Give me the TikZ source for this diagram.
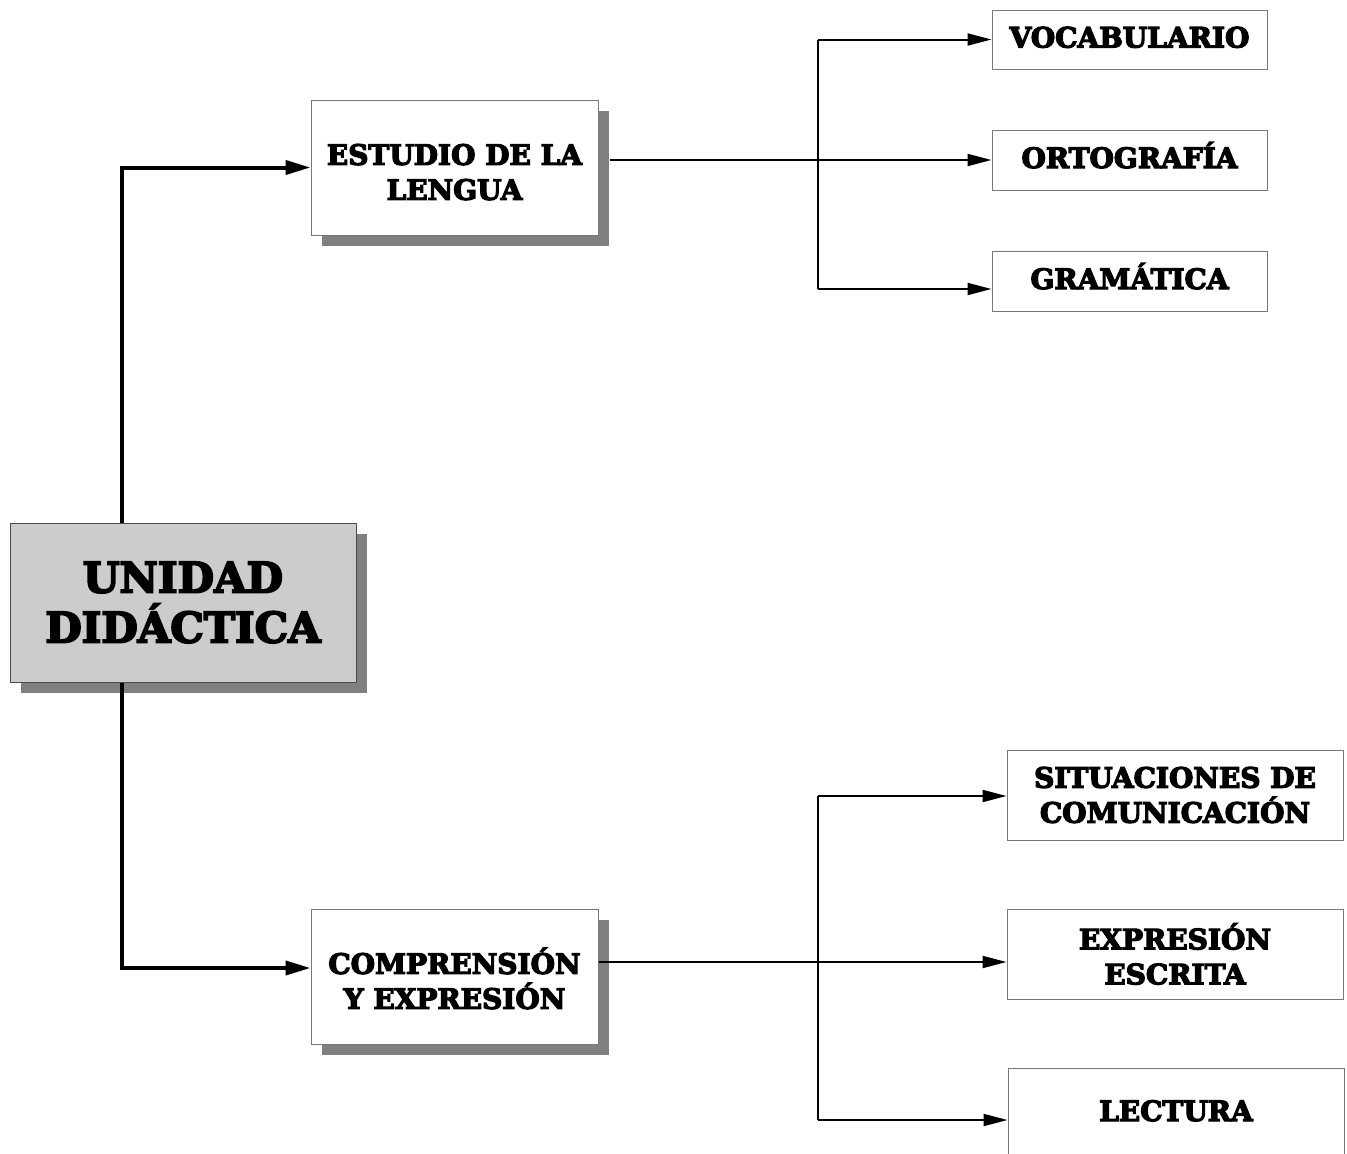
\documentclass[tikz,border=0pt]{standalone}
\usepackage{fontspec}
\newfontfamily\boxfont{DejaVu Serif Bold}[FakeBold=4.5]
\usetikzlibrary{arrows.meta,shadows,positioning}
\definecolor{shadowgray}{RGB}{128,128,128}
\definecolor{maingray}{RGB}{204,204,204}
\definecolor{edgegray}{RGB}{120,120,120}
\begin{document}
\begin{tikzpicture}[x=1pt,y=-1pt,
  base/.style={draw=edgegray, line width=1pt, align=center, inner sep=0pt, font=\boxfont\fontsize{28}{35}\selectfont},
  leaf/.style={base, fill=white},
  oneline/.style={text height=20pt, text depth=4pt},
  mid/.style={base, fill=white, minimum width=287pt, minimum height=135pt,
    drop shadow={shadow xshift=11pt, shadow yshift=-11pt, fill=shadowgray, opacity=1}},
  root/.style={base, draw=black!70, fill=maingray, minimum width=346pt, minimum height=159pt,
    font=\boxfont\fontsize{42}{50}\selectfont,
    drop shadow={shadow xshift=11pt, shadow yshift=-11pt, fill=shadowgray, opacity=1}},
  thickarrow/.style={line width=4pt, -{Triangle[length=25pt,width=14pt]}},
  thinline/.style={line width=2pt},
  thinarrow/.style={line width=2pt, -{Triangle[length=24pt,width=12pt]}}
]
\useasboundingbox[fill=white] (0,0) rectangle (1347,1154);
\node[root] (unidad) at (183,602.5) {UNIDAD\\DIDÁCTICA};
\node[mid] (estudio) at (454.5,167.5) {\rule{0pt}{30pt}ESTUDIO DE LA\\LENGUA};
\node[mid] (compr) at (454.5,976.5) {\rule{0pt}{30pt}COMPRENSIÓN\\Y EXPRESIÓN};
\node[leaf, oneline, minimum width=275pt, minimum height=59pt] (vocab) at (1129.5,39.5) {VOCABULARIO};
\node[leaf, oneline, minimum width=275pt, minimum height=60pt] (orto) at (1129.5,160) {ORTOGRAFÍA};
\node[leaf, oneline, minimum width=275pt, minimum height=60pt] (gram) at (1129.5,281) {GRAMÁTICA};
\node[leaf, minimum width=336pt, minimum height=90pt] (sit) at (1175,795) {SITUACIONES DE\\COMUNICACIÓN};
\node[leaf, minimum width=336pt, minimum height=90pt] (expr) at (1175,954) {EXPRESIÓN\\ESCRITA};
\node[leaf, oneline, minimum width=336pt, minimum height=90pt] (lect) at (1176,1113) {LECTURA};
\coordinate (ux) at (122,0);
\coordinate (bx) at (818,0);
% thick connectors
\draw[thickarrow] (unidad.north -| ux) |- (estudio.west);
\draw[thickarrow] (unidad.south -| ux) |- ([yshift=8.5pt]compr.west);
% upper bus
\draw[thinarrow] ([xshift=11pt]estudio.east |- orto.west) -- (orto.west);
\draw[thinline] (vocab.west -| bx) -- ([yshift=-8pt]gram.west -| bx);
\draw[thinarrow] (vocab.west -| bx) -- (vocab.west);
\draw[thinarrow] ([yshift=-8pt]gram.west -| bx) -- ([yshift=-8pt]gram.west);
% lower bus
\draw[thinarrow] ([yshift=14.5pt]compr.east) -- ([yshift=-8pt]expr.west);
\draw[thinline] ([yshift=-1pt]sit.west -| bx) -- ([yshift=-7pt]lect.west -| bx);
\draw[thinarrow] ([yshift=-1pt]sit.west -| bx) -- ([yshift=-1pt]sit.west);
\draw[thinarrow] ([yshift=-7pt]lect.west -| bx) -- ([yshift=-7pt]lect.west);
\end{tikzpicture}
\end{document}
